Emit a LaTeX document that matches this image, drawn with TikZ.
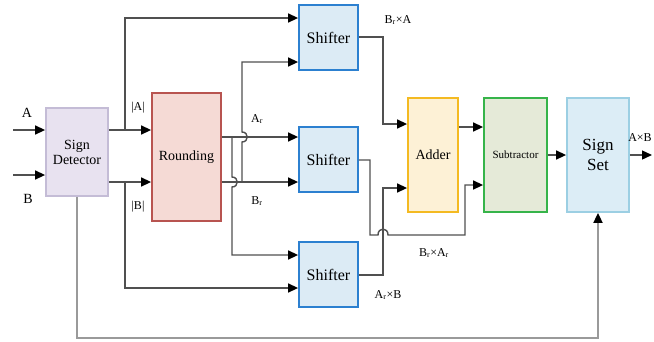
\documentclass[tikz,border=0pt]{standalone}
\usepackage{fontspec}
\setmainfont{Liberation Serif}
\usetikzlibrary{arrows.meta}
\definecolor{sdfill}{HTML}{E8E2F0}\definecolor{sddraw}{HTML}{C4BCD6}
\definecolor{rfill}{HTML}{F5DAD5}\definecolor{rdraw}{HTML}{B85450}
\definecolor{shfill}{HTML}{DCEBF5}\definecolor{shdraw}{HTML}{2C80D0}
\definecolor{afill}{HTML}{FDF1D6}\definecolor{adraw}{HTML}{F4BA22}
\definecolor{sbfill}{HTML}{E5EAD8}\definecolor{sbdraw}{HTML}{36B44A}
\definecolor{ssfill}{HTML}{DCEDF6}\definecolor{ssdraw}{HTML}{9CCFE3}
\definecolor{wire}{HTML}{505050}\definecolor{fbwire}{HTML}{9A9A9A}
\begin{document}
\begin{tikzpicture}[x=1pt,y=-1pt,
  blk/.style={draw, line width=1.8pt, inner sep=0pt, align=center, font=\fontsize{14}{15}\selectfont},
  wireline/.style={draw=wire, line width=1.4pt},
  arr/.style={wireline, -{Triangle[length=10pt,width=9pt,fill=black,color=black]}},
  fbline/.style={draw=fbwire, line width=1.8pt, -{Triangle[length=10pt,width=9pt,fill=black,color=black]}},
  lbl/.style={font=\fontsize{12}{13}\selectfont, inner sep=0pt}]
\useasboundingbox (0,0) rectangle (654,341);
% blocks
\node[blk, fill=sdfill, draw=sddraw, minimum width=62pt, minimum height=88pt] (sd) at (77,152) {Sign\\Detector};
\node[blk, fill=rfill, draw=rdraw, minimum width=69pt, minimum height=128pt] (rnd) at (186.5,157) {Rounding};
\node[blk, fill=shfill, draw=shdraw, minimum width=59pt, minimum height=65pt, font=\fontsize{16}{17}\selectfont] (sh1) at (328.5,37.5) {Shifter};
\node[blk, fill=shfill, draw=shdraw, minimum width=59pt, minimum height=65pt, font=\fontsize{16}{17}\selectfont] (sh2) at (328.5,159.5) {Shifter};
\node[blk, fill=shfill, draw=shdraw, minimum width=59pt, minimum height=65pt, font=\fontsize{16}{17}\selectfont] (sh3) at (328.5,274.5) {Shifter};
\node[blk, fill=afill, draw=adraw, minimum width=50pt, minimum height=114pt] (add) at (433,155) {Adder};
\node[blk, fill=sbfill, draw=sbdraw, minimum width=63pt, minimum height=114pt, font=\fontsize{11}{12}\selectfont] (sub) at (515.5,155) {Subtractor};
\node[blk, fill=ssfill, draw=ssdraw, minimum width=62pt, minimum height=114pt, font=\fontsize{17}{20}\selectfont] (ss) at (598,155) {Sign\\Set};
% level coordinates
\coordinate (inA) at (13,130);
\coordinate (inB) at (13,175);
\coordinate (yA) at (0,130);
\coordinate (yB) at (0,182);
\coordinate (yT1) at (0,18);
\coordinate (yT2) at (0,62);
\coordinate (yAr) at (0,137);
\coordinate (yBr) at (0,182);
\coordinate (yS3a) at (0,255);
\coordinate (yS3b) at (0,288);
\coordinate (yo1) at (0,37);
\coordinate (yo2) at (0,160);
\coordinate (yo3) at (0,275);
\coordinate (yad1) at (0,124);
\coordinate (yad2) at (0,188);
\coordinate (yaout) at (0,127);
\coordinate (ysb2) at (0,185);
\coordinate (ybot) at (0,338);
\coordinate (out) at (652,155);
% inputs
\draw[arr] (inA) -- (inA -| sd.west);
\draw[arr] (inB) -- (inB -| sd.west);
% sign detector to rounding
\draw[arr] (sd.east |- yA) -- (rnd.west |- yA);
\draw[arr] (sd.east |- yB) -- (rnd.west |- yB);
\draw[arr] (125,130) -- (125,18) -- (sh1.west |- yT1);
\draw[arr] (125,182) -- (125,288) -- (sh3.west |- yS3b);
% rounding outputs
\draw[arr] (rnd.east |- yAr) -- (sh2.west |- yAr);
\draw[arr] (rnd.east |- yBr) -- (sh2.west |- yBr);
\draw[arr] (232,137) -- (232,177) .. controls (239,177) and (239,187) .. (232,187) -- (232,255) -- (sh3.west |- yS3a);
\draw[arr] (242,182) -- (242,142) .. controls (249,142) and (249,132) .. (242,132) -- (242,62) -- (sh1.west |- yT2);
% shifter outputs
\draw[arr] (sh1.east |- yo1) -- (383,37) -- (383,124) -- (add.west |- yad1);
\draw[arr] (sh3.east |- yo3) -- (383,275) -- (383,188) -- (add.west |- yad2);
\draw[arr] (sh2.east |- yo2) -- (370,160) -- (370,235) -- (378,235) .. controls (378,227) and (388,227) .. (388,235) -- (465,235) -- (465,185) -- (sub.west |- ysb2);
% adder / subtractor / sign set
\draw[arr] (add.east |- yaout) -- (sub.west |- yaout);
\draw[arr] (sub.east) -- (ss.west);
\draw[arr] (ss.east) -- (out);
\draw[fbline] (sd.south) -- (sd.south |- ybot) -- (ss.south |- ybot) -- (ss.south);
% labels
\node[lbl, font=\fontsize{14}{15}\selectfont] (lA) at (27,113) {A};
\node[lbl, font=\fontsize{14}{15}\selectfont] (lB) at (28,199) {B};
\node[lbl] (labsA) at (138,108) {|A|};
\node[lbl] (labsB) at (138,207) {|B|};
\node[lbl] (lAr) at (257,119) {A\textsubscript{r}};
\node[lbl] (lBr) at (257,201) {B\textsubscript{r}};
\node[lbl] (lBrA) at (398,20) {B\textsubscript{r}×A};
\node[lbl] (lBrAr) at (434,253) {B\textsubscript{r}×A\textsubscript{r}};
\node[lbl] (lArB) at (388,295) {A\textsubscript{r}×B};
\node[lbl] (lAB) at (640,138) {A×B};
\end{tikzpicture}
\end{document}
